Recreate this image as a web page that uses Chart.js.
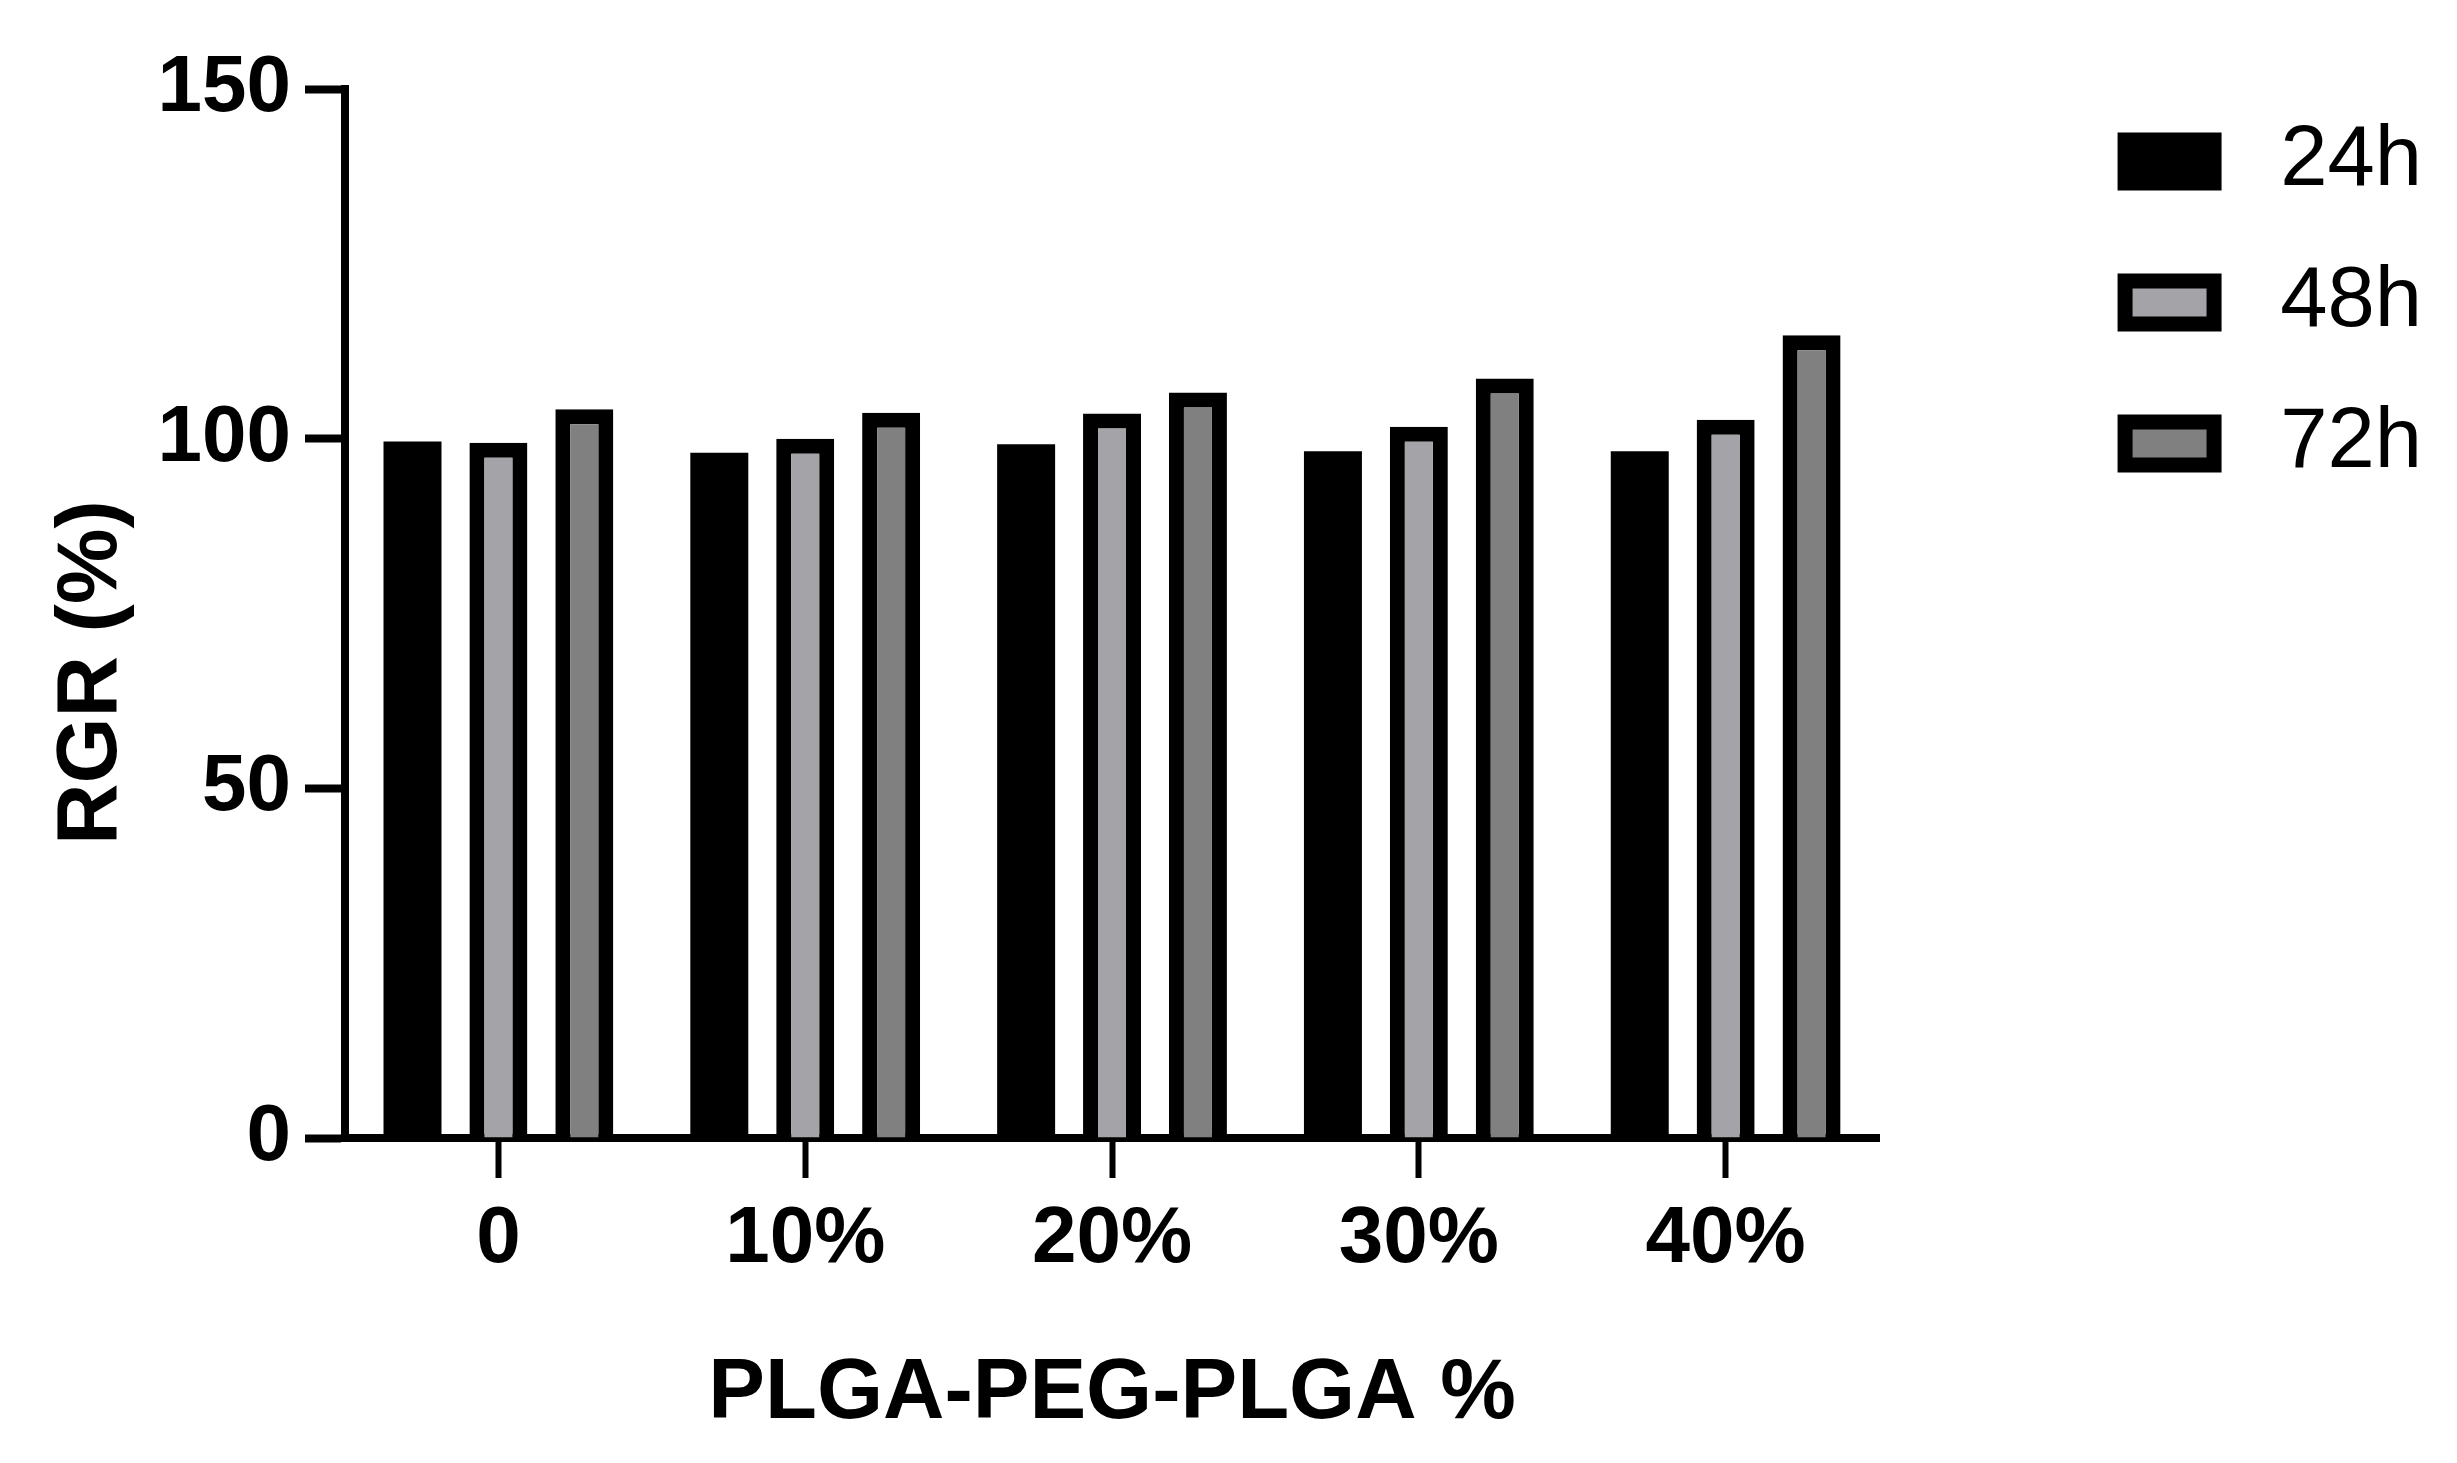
<!DOCTYPE html>
<html>
<head>
<meta charset="utf-8">
<script src="https://cdn.jsdelivr.net/npm/chart.js@4"></script>
<style>
  html, body { margin: 0; padding: 0; background: #fff; }
  canvas { display: block; }
</style>
</head>
<body>
<canvas id="rgrChart" width="2457" height="1463"></canvas>
<script>
// categories and series
const categories = ['0', '10%', '20%', '30%', '40%'];
const seriesNames = ['24h', '48h', '72h'];
const rgr24h = [99.6, 98.0, 99.2, 98.2, 98.2];
const rgr48h = [99.4, 100.0, 103.6, 101.7, 102.7];
const rgr72h = [104.2, 103.7, 106.6, 108.6, 114.8];
const yTicks = [0, 50, 100, 150];

const fontFamily = "'Liberation Sans', Arial, sans-serif";

const ctx = document.getElementById('rgrChart').getContext('2d');
const rgrChart = new Chart(ctx, {
    type: 'bar',
    data: {
        labels: categories,
        datasets: [{
            label: seriesNames[0],
            data: rgr24h,
            backgroundColor: '#000000',
            borderColor: '#000000',
            borderWidth: 0
        }, {
            label: seriesNames[1],
            data: rgr48h,
            backgroundColor: '#a3a3a8',
            borderColor: '#000000',
            borderWidth: 15
        }, {
            label: seriesNames[2],
            data: rgr72h,
            backgroundColor: '#808080',
            borderColor: '#000000',
            borderWidth: 15
        }]
    },
    options: {
        responsive: false,
        animation: false,
        categoryPercentage: 0.84,
        barPercentage: 0.675,
        layout: {
            padding: { top: 63, right: 25, bottom: 17, left: 0 }
        },
        plugins: {
            tooltip: { enabled: false },
            legend: {
                position: 'right',
                align: 'start',
                labels: {
                    color: '#000',
                    font: { family: fontFamily, size: 85 },
                    boxWidth: 89,
                    boxHeight: 43,
                    padding: 56,
                    // every box gets the same black frame, and a little gap before the text
                    generateLabels: (chart) => Chart.defaults.plugins.legend.labels.generateLabels(chart)
                        .map(item => Object.assign(item, {
                            text: ' ' + item.text,
                            lineWidth: 15,
                            strokeStyle: '#000000'
                        }))
                }
            }
        },
        scales: {
            x: {
                grid: {
                    offset: false,
                    drawOnChartArea: false,
                    drawTicks: true,
                    tickLength: 40,
                    tickWidth: 6,
                    tickColor: '#000'
                },
                border: { color: '#000', width: 8 },
                ticks: {
                    color: '#000',
                    padding: 14,
                    font: { family: fontFamily, size: 80, weight: 'bold' }
                },
                title: {
                    display: true,
                    text: 'PLGA-PEG-PLGA %',
                    color: '#000',
                    font: { family: fontFamily, size: 85, weight: 'bold' },
                    padding: { top: 42, bottom: 0 }
                }
            },
            y: {
                min: 0,
                max: 150,
                afterBuildTicks: (scale) => {
                    scale.ticks = yTicks.map(v => ({ value: v }));
                },
                afterFit: (scale) => {
                    scale.width = 345;
                    scale.paddingTop = 89;
                },
                grid: {
                    drawOnChartArea: false,
                    drawTicks: true,
                    tickLength: 40,
                    tickWidth: 8,
                    tickColor: '#000'
                },
                border: { color: '#000', width: 8 },
                ticks: {
                    color: '#000',
                    padding: 14,
                    font: { family: fontFamily, size: 80, weight: 'bold' }
                },
                title: {
                    display: true,
                    text: 'RGR (%)     ',
                    color: '#000',
                    font: { family: fontFamily, size: 85, weight: 'bold' },
                    padding: { top: 42, bottom: 0 }
                }
            },
            // empty axis that keeps the gap between the plot and the legend
            gap: {
                type: 'linear',
                position: 'right',
                display: true,
                grid: { display: false },
                border: { display: false },
                ticks: { display: false },
                afterFit: (scale) => {
                    scale.width = 190;
                }
            }
        }
    }
});
</script>
</body>
</html>
